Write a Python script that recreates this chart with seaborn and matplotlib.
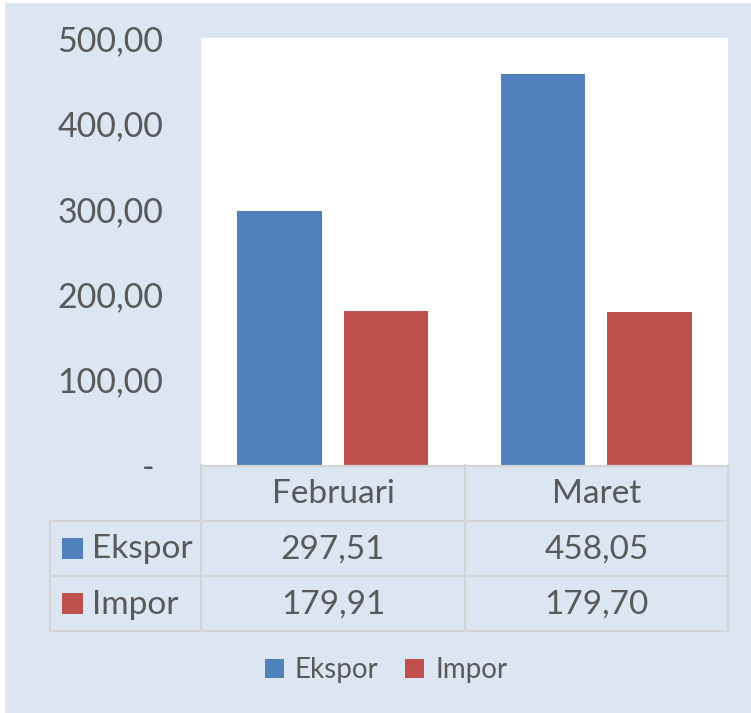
import numpy as np
import pandas as pd
import seaborn as sns
import matplotlib.pyplot as plt
from matplotlib.patches import Rectangle
from matplotlib.lines import Line2D

# data
bulan = ['Februari', 'Maret']
seri = ['Ekspor', 'Impor']
ekspor = [297.51, 458.05]
impor = [179.91, 179.70]
y_ticks = [0, 100, 200, 300, 400, 500]

warna = ['#4F81BD', '#C0504D']
bg = '#DCE6F2'
teks = '#595959'
garis = '#D4D4D4'

df = pd.DataFrame({
    'bulan': bulan * 2,
    'seri': [seri[0]] * 2 + [seri[1]] * 2,
    'nilai': ekspor + impor,
})

sns.set_style('white')
plt.rcParams['font.family'] = ['Lato', 'DejaVu Sans']

W, H = 751, 713
fig = plt.figure(figsize=(W / 100, H / 100), dpi=100, facecolor='white')

def fx(x):
    return x / W

def fy(y):
    return 1 - y / H

# chart background
fig.patches.append(Rectangle((fx(5), 0), 1 - fx(5), fy(3), transform=fig.transFigure,
                             facecolor=bg, edgecolor='none', zorder=-10))

ax = fig.add_axes([fx(201), fy(465), fx(728) - fx(201), fy(38) - fy(465)])
ax.set_facecolor('white')
sns.barplot(data=df, x='bulan', y='nilai', hue='seri', palette=warna, saturation=1,
            width=0.81, gap=0.21, ax=ax, legend=True, edgecolor='none')
ax.set_xlim(-0.5, 1.5)
ax.set_ylim(0, 500)
ax.set_yticks(y_ticks)
ax.set_yticklabels(['- '] + ['{:.2f}'.format(v).replace('.', ',') for v in y_ticks[1:]])
ax.tick_params(axis='y', labelsize=24.5, colors=teks, length=0, pad=27)
ax.set_xticks([])
ax.set_xlabel('')
ax.set_ylabel('')
for s in ax.spines.values():
    s.set_visible(False)

# legend at bottom
handles, labels = ax.get_legend_handles_labels()
ax.get_legend().remove()
fig.legend(handles, labels, ncol=2, loc='center', bbox_to_anchor=(fx(386), fy(670)),
           frameon=False, fontsize=20, labelcolor=teks, handlelength=0.68,
           handleheight=0.68, handletextpad=0.4, columnspacing=0.95)

# data table
cols_x = [50, 201, 465, 728]
rows_y = [465, 521, 576, 631]

def hline(y, x0, x1):
    fig.lines.append(Line2D([fx(x0), fx(x1)], [fy(y), fy(y)], transform=fig.transFigure,
                            color=garis, lw=1.6))

def vline(x, y0, y1):
    fig.lines.append(Line2D([fx(x), fx(x)], [fy(y0), fy(y1)], transform=fig.transFigure,
                            color=garis, lw=1.6))

hline(rows_y[0] + 1, cols_x[1], cols_x[3])
for y in rows_y[1:]:
    hline(y, cols_x[0], cols_x[3])
vline(cols_x[0], rows_y[1], rows_y[3])
for x in cols_x[1:]:
    vline(x, rows_y[0], rows_y[3])

for j, b in enumerate(bulan):
    cx = (cols_x[j + 1] + cols_x[j + 2]) / 2
    fig.text(fx(cx), fy((rows_y[0] + rows_y[1]) / 2 + 1), b, ha='center', va='center',
             fontsize=24, color=teks)

for i, (nama, vals) in enumerate(zip(seri, [ekspor, impor])):
    cy = (rows_y[i + 1] + rows_y[i + 2]) / 2
    fig.patches.append(Rectangle((fx(62), fy(cy + 10.5)), fx(21), fy(0) - fy(21),
                                 transform=fig.transFigure, facecolor=warna[i],
                                 edgecolor='none'))
    fig.text(fx(92), fy(cy + 1), nama, ha='left', va='center', fontsize=24, color=teks)
    for j, v in enumerate(vals):
        cx = (cols_x[j + 1] + cols_x[j + 2]) / 2
        fig.text(fx(cx), fy(cy + 1), '{:.2f}'.format(v).replace('.', ','),
                 ha='center', va='center', fontsize=24, color=teks)

fig.savefig('out.png', dpi=100, facecolor=fig.get_facecolor())
